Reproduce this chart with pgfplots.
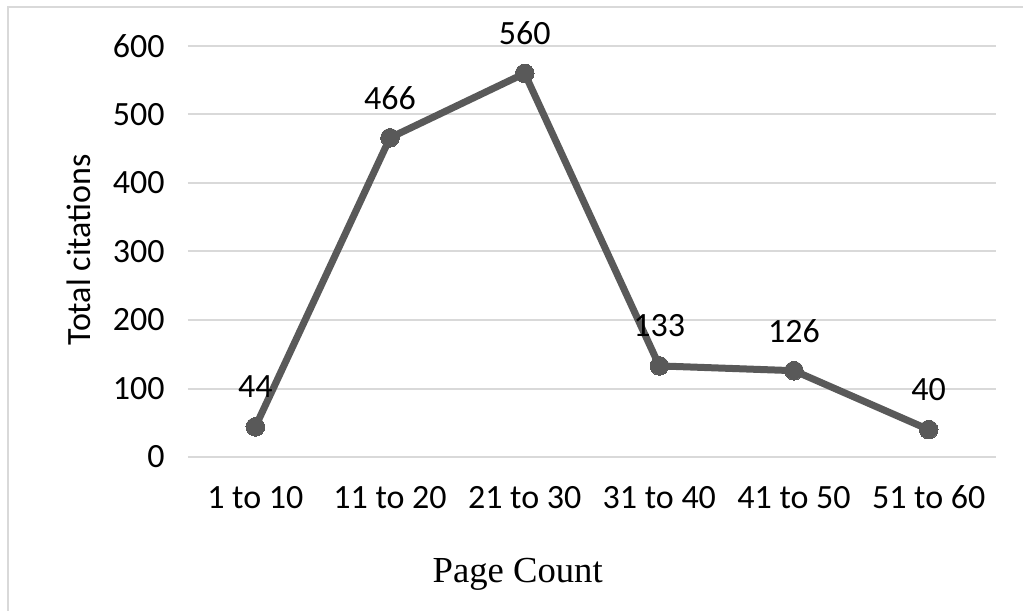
\documentclass[border=0pt]{standalone}
\usepackage{pgfplots}
\pgfplotsset{compat=1.18}
\usepackage{fontspec}
\setmainfont{Carlito}
\newfontfamily\timesfont{Liberation Serif}
\definecolor{linegray}{HTML}{595959}
\definecolor{gridgray}{HTML}{D9D9D9}
\begin{document}
\begin{tikzpicture}[x=0.75pt,y=0.75pt]
\useasboundingbox (-188,-153) rectangle (835,457);
\draw[gridgray, line width=2pt] (-180,-160) -- (-180,450) -- (840,450);
\begin{axis}[
  at={(0,0)}, anchor=south west,
  scale only axis, width=606pt, height=308.25pt,
  xmin=-0.5, xmax=5.5, ymin=0, ymax=600,
  xtick={0,...,5},
  xticklabels={1 to 10,11 to 20,21 to 30,31 to 40,41 to 50,51 to 60},
  ytick={0,100,...,600},
  /pgf/number format/assume math mode=true,
  axis line style={draw=none},
  major tick length=0pt,
  ymajorgrids, grid style={gridgray, line width=1.5pt},
  tick label style={font=\fontsize{25.5}{30}\selectfont},
  xticklabel style={anchor=base, yshift=-38.5pt},
  yticklabel style={xshift=-14pt},
  every axis x label/.style={at={(axis description cs:0.408,-0.2855)}, anchor=center},
  every axis y label/.style={at={(axis description cs:-0.1345,0.504)}, anchor=center, rotate=90},
  xlabel={\timesfont\fontsize{27.5}{32}\selectfont Page Count},
  ylabel={\fontsize{25.5}{30}\selectfont Total citations},
  nodes near coords,
  nodes near coords style={font=\fontsize{25.5}{30}\selectfont, text=black, anchor=center, yshift=30pt},
  clip=false,
]
\addplot[linegray, line width=5.25pt, mark=*, mark size=7pt, mark options={fill=linegray, line width=0pt}]
  coordinates {(0,44) (1,466) (2,560) (3,133) (4,126) (5,40)};
\end{axis}
\end{tikzpicture}
\end{document}
